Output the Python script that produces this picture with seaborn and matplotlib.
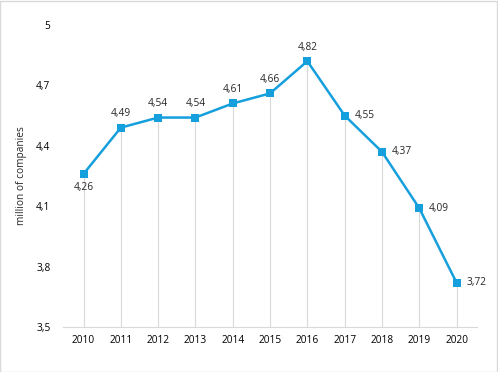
import matplotlib
matplotlib.use("Agg")
import matplotlib.pyplot as plt
import seaborn as sns
import pandas as pd

years = ["2010", "2011", "2012", "2013", "2014", "2015", "2016", "2017", "2018", "2019", "2020"]
companies = [4.26, 4.49, 4.54, 4.54, 4.61, 4.66, 4.82, 4.55, 4.37, 4.09, 3.72]
label_side = ["below", "above", "above", "above", "above", "above", "above",
              "right", "right", "right", "right"]
y_ticks = [3.5, 3.8, 4.1, 4.4, 4.7, 5.0]

LINE = "#169fdd"

sns.set_theme(style="white")
plt.rcParams['font.family'] = ['Open Sans', 'DejaVu Sans']

df = pd.DataFrame({"year": years, "value": companies})
df["pos"] = range(len(df))

fig = plt.figure(figsize=(4.98, 3.72), dpi=100)
ax = fig.add_axes([0.1265, 0.121, 0.8315, 0.812])

# drop lines from axis to each point
ax.vlines(df["pos"], 3.5, df["value"], color="#d9d9d9", linewidth=0.8, zorder=1)

sns.lineplot(data=df, x="pos", y="value", ax=ax, color=LINE, linewidth=1.8,
             marker="s", markersize=5.5, markeredgewidth=0, zorder=3)

for p, v, side in zip(df["pos"], df["value"], label_side):
    txt = f"{v:.2f}".replace(".", ",")
    if side == "above":
        ax.annotate(txt, (p, v), xytext=(0, 6), textcoords="offset points",
                    ha="center", va="bottom", fontsize=7.3)
    elif side == "below":
        ax.annotate(txt, (p, v), xytext=(0, -6), textcoords="offset points",
                    ha="center", va="top", fontsize=7.3)
    else:
        ax.annotate(txt, (p, v), xytext=(7, 0), textcoords="offset points",
                    ha="left", va="center", fontsize=7.3)

ax.set_xlim(-0.55, 10.55)
ax.set_ylim(3.5, 5.0)
ax.set_xticks(df["pos"])
ax.set_xticklabels(years)
ax.set_yticks(y_ticks)
ax.set_yticklabels([f"{t:g}".replace(".", ",") for t in y_ticks])
ax.tick_params(axis="both", length=0, labelsize=7.3, colors="#000000")
ax.tick_params(axis="y", pad=9)
ax.tick_params(axis="x", pad=6)
ax.set_xlabel("")
ax.set_ylabel("million of companies", fontsize=7.3)
ax.yaxis.set_label_coords(-0.087, 0.5)

for s in ["top", "right", "left"]:
    ax.spines[s].set_visible(False)
ax.spines["bottom"].set_color("#d9d9d9")
ax.spines["bottom"].set_linewidth(0.8)

# outer chart border
fig.patches.append(plt.Rectangle((0.001, 0.001), 0.997, 0.996, transform=fig.transFigure,
                                 fill=False, edgecolor="#d9d9d9", linewidth=1))

fig.savefig("out.png", dpi=100)
